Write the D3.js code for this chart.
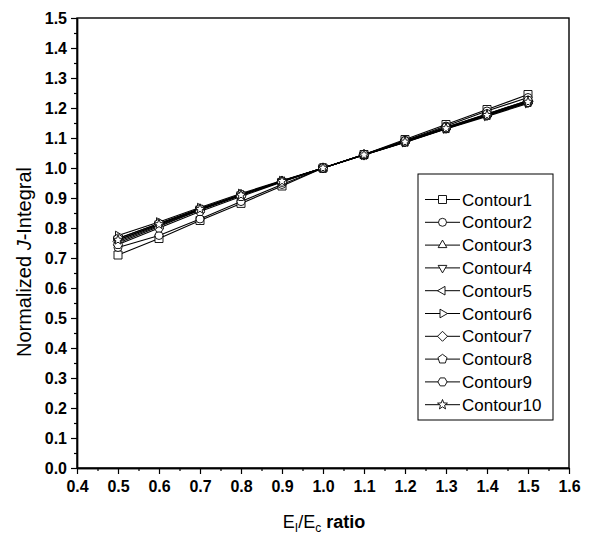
<!DOCTYPE html>
<html><head><meta charset="utf-8">
<script src="https://cdn.jsdelivr.net/npm/d3@7"></script>
<style>body{margin:0;background:#fff}svg{display:block}</style>
</head><body>
<svg id="c" width="600" height="539"></svg>
<script>
const xValues = [0.5,0.6,0.7,0.8,0.9,1.0,1.1,1.2,1.3,1.4,1.5];
const seriesNames = ["Contour1","Contour2","Contour3","Contour4","Contour5","Contour6","Contour7","Contour8","Contour9","Contour10"];
const contour1 = [0.710,0.765,0.825,0.882,0.940,1.0,1.045,1.095,1.145,1.195,1.245];
const contour2 = [0.735,0.775,0.830,0.888,0.945,1.0,1.045,1.092,1.140,1.190,1.235];
const contour3 = [0.750,0.805,0.860,0.910,0.955,1.0,1.045,1.090,1.135,1.180,1.225];
const contour4 = [0.765,0.815,0.865,0.912,0.957,1.0,1.043,1.087,1.132,1.175,1.218];
const contour5 = [0.760,0.812,0.862,0.910,0.956,1.0,1.044,1.088,1.133,1.177,1.220];
const contour6 = [0.775,0.820,0.868,0.915,0.958,1.0,1.043,1.085,1.130,1.172,1.215];
const contour7 = [0.755,0.808,0.860,0.908,0.955,1.0,1.044,1.088,1.134,1.178,1.222];
const contour8 = [0.765,0.815,0.864,0.912,0.957,1.0,1.043,1.086,1.131,1.175,1.218];
const contour9 = [0.745,0.800,0.855,0.905,0.953,1.0,1.045,1.090,1.136,1.180,1.225];
const contour10 = [0.760,0.812,0.863,0.910,0.956,1.0,1.044,1.087,1.132,1.176,1.220];
const allSeries = [contour1,contour2,contour3,contour4,contour5,contour6,contour7,contour8,contour9,contour10];
const xTicks = [0.4,0.5,0.6,0.7,0.8,0.9,1.0,1.1,1.2,1.3,1.4,1.5,1.6];
const yTicks = [0.0,0.1,0.2,0.3,0.4,0.5,0.6,0.7,0.8,0.9,1.0,1.1,1.2,1.3,1.4,1.5];

const svg = d3.select("#c");
const L=77, R=569, T=18, B=468;
const x = d3.scaleLinear().domain([0.4,1.6]).range([L,R]);
const y = d3.scaleLinear().domain([0,1.5]).range([B,T]);
const font = "Liberation Sans, Arial, sans-serif";

// frame
svg.append("rect").attr("x",L).attr("y",T).attr("width",R-L).attr("height",B-T)
  .attr("fill","none").attr("stroke","#000").attr("stroke-width",1.4);

// axes
const xMinor = d3.range(0.45,1.6,0.1);
const yMinor = d3.range(0.05,1.5,0.1);
const xAx = svg.append("g").attr("transform",`translate(0,${B})`)
  .call(d3.axisBottom(x).tickValues(xTicks).tickFormat(d3.format(".1f")).tickSize(6).tickSizeOuter(0));
const xAxMinor = svg.append("g").attr("transform",`translate(0,${B})`)
  .call(d3.axisBottom(x).tickValues(xMinor).tickFormat("").tickSize(3).tickSizeOuter(0));
const yAx = svg.append("g").attr("transform",`translate(${L},0)`)
  .call(d3.axisLeft(y).tickValues(yTicks).tickFormat(d3.format(".1f")).tickSize(6).tickSizeOuter(0));
const yAxMinor = svg.append("g").attr("transform",`translate(${L},0)`)
  .call(d3.axisLeft(y).tickValues(yMinor).tickFormat("").tickSize(3).tickSizeOuter(0));
[xAx,xAxMinor,yAx,yAxMinor].forEach(g=>{
  g.select(".domain").attr("stroke","#000").attr("stroke-width",1.4);
  g.selectAll(".tick line").attr("stroke","#000").attr("stroke-width",1.2);
  g.selectAll("text").attr("font-family",font).attr("font-weight","bold").attr("font-size",16).attr("fill","#000");
});
xAx.selectAll("text").attr("dy","0.95em");
yAx.selectAll("text").attr("dx","-1px");

// titles
const yt = svg.append("text").attr("transform","translate(31,262) rotate(-90)")
  .attr("text-anchor","middle").attr("font-family",font).attr("font-size",20).attr("fill","#000");
yt.append("tspan").text("Normalized ");
yt.append("tspan").attr("font-style","italic").text("J");
yt.append("tspan").text("-Integral");

const xt = svg.append("text").attr("x",324).attr("y",528).attr("text-anchor","middle")
  .attr("font-family",font).attr("font-size",18).attr("fill","#000");
xt.append("tspan").text("E");
xt.append("tspan").attr("font-size",12).attr("dy",4).text("I");
xt.append("tspan").attr("dy",-4).text("/E");
xt.append("tspan").attr("font-size",12).attr("dy",4).text("c");
xt.append("tspan").attr("dy",-4).attr("font-weight","bold").text(" ratio");

// markers
function poly(n, r, rot){
  const pts=[];
  for(let i=0;i<n;i++){const a=rot+i*2*Math.PI/n; pts.push([r*Math.cos(a), r*Math.sin(a)]);}
  return "M"+pts.map(p=>p[0].toFixed(2)+","+p[1].toFixed(2)).join("L")+"Z";
}
function star(r){
  const pts=[];
  for(let i=0;i<10;i++){const rr=i%2?r*0.42:r; const a=-Math.PI/2+i*Math.PI/5; pts.push([rr*Math.cos(a), rr*Math.sin(a)]);}
  return "M"+pts.map(p=>p[0].toFixed(2)+","+p[1].toFixed(2)).join("L")+"Z";
}
const markers = [
  "M-4,-4L4,-4L4,4L-4,4Z",
  d3.symbol(d3.symbolCircle, 50)(),
  poly(3,5,-Math.PI/2),
  poly(3,5,Math.PI/2),
  poly(3,5,Math.PI),
  poly(3,5,0),
  poly(4,5,-Math.PI/2),
  poly(5,4.8,-Math.PI/2),
  poly(6,4.6,0),
  star(5.2)
];

const line = d3.line().x((d,i)=>x(xValues[i])).y(d=>y(d));
const plot = svg.append("g");
allSeries.forEach((s,k)=>{
  plot.append("path").attr("d",line(s)).attr("fill","none").attr("stroke","#000").attr("stroke-width",1.1);
});
allSeries.forEach((s,k)=>{
  plot.selectAll(null).data(s).enter().append("path")
    .attr("transform",(d,i)=>`translate(${x(xValues[i])},${y(d)})`)
    .attr("d",markers[k]).attr("fill","#fff").attr("stroke","#000").attr("stroke-width",0.9);
});

// legend
const lg = svg.append("g");
lg.append("rect").attr("x",418).attr("y",174).attr("width",135).attr("height",246)
  .attr("fill","#fff").attr("stroke","#000").attr("stroke-width",1);
seriesNames.forEach((n,k)=>{
  const yy = 199.5 + k*22.8;
  lg.append("line").attr("x1",425).attr("x2",460).attr("y1",yy).attr("y2",yy).attr("stroke","#000").attr("stroke-width",1);
  lg.append("path").attr("transform",`translate(442.5,${yy})`).attr("d",markers[k])
    .attr("fill","#fff").attr("stroke","#000").attr("stroke-width",0.9);
  lg.append("text").attr("x",462).attr("y",yy+6).attr("font-family",font).attr("font-size",17)
    .attr("fill","#000").text(n);
});
</script>
</body></html>
